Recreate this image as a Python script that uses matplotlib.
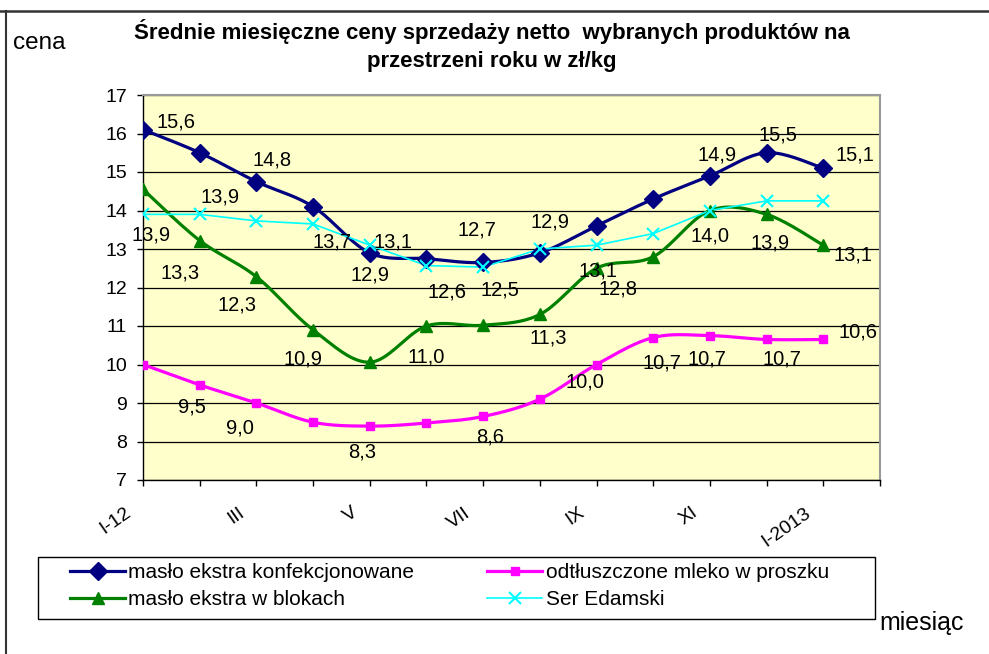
import numpy as np
import matplotlib
matplotlib.use("Agg")
import matplotlib.pyplot as plt
from matplotlib.lines import Line2D
from matplotlib.patches import Rectangle
from matplotlib.transforms import ScaledTranslation

plt.rcParams['font.family'] = ['Liberation Sans', 'DejaVu Sans']

# months on the category axis (13 points, axis runs one category further)
months = ['I-12', 'II', 'III', 'IV', 'V', 'VI', 'VII', 'VIII', 'IX', 'X', 'XI', 'XII', 'I-2013']
tick_labels = ['I-12', '', 'III', '', 'V', '', 'VII', '', 'IX', '', 'XI', '', 'I-2013', '']

maslo_konf = [16.1, 15.5, 14.75, 14.1, 12.9, 12.75, 12.65, 12.9, 13.6, 14.3, 14.9, 15.5, 15.1]
mleko = [10.0, 9.47, 9.0, 8.5, 8.4, 8.48, 8.65, 9.1, 10.0, 10.7, 10.75, 10.65, 10.65]
maslo_blok = [14.55, 13.22, 12.28, 10.9, 10.06, 11.0, 11.02, 11.3, 12.5, 12.8, 14.0, 13.9, 13.1]
ser = [13.9, 13.9, 13.73, 13.65, 13.1, 12.57, 12.53, 13.0, 13.1, 13.4, 14.0, 14.25, 14.25]

# data labels as they stand on the original chart (text, x, y in data units)
lab_konf = ['15,6', '14,8', '12,9', '12,7', '12,9', '14,9', '15,5', '15,1']
lab_konf_x = [0.59, 2.27, 4.00, 5.89, 7.18, 10.12, 11.20, 12.56]
lab_konf_y = [16.31, 15.31, 12.32, 13.49, 13.71, 15.44, 15.96, 15.44]

lab_ser = ['13,9', '13,9', '13,7', '13,1', '12,6', '12,5', '14,0']
lab_ser_x = [0.15, 1.36, 3.33, 4.41, 5.36, 6.30, 10.0]
lab_ser_y = [13.36, 14.34, 13.19, 13.17, 11.89, 11.94, 13.34]

lab_blok = ['13,3', '12,3', '10,9', '11,0', '11,3', '13,1', '12,8', '13,9', '13,1']
lab_blok_x = [0.65, 1.65, 2.83, 5.00, 7.15, 8.03, 8.38, 11.06, 12.53]
lab_blok_y = [12.38, 11.55, 10.14, 10.19, 10.68, 12.42, 11.95, 13.16, 12.84]

lab_mleko = ['9,5', '9,0', '8,3', '8,6', '10,0', '10,7', '10,7', '10,7', '10,6']
lab_mleko_x = [0.86, 1.71, 3.86, 6.12, 7.80, 9.15, 9.94, 11.27, 12.62]
lab_mleko_y = [8.90, 8.34, 7.74, 8.12, 9.55, 10.03, 10.13, 10.13, 10.85]


def smooth(x, y, n=20):
    # catmull-rom curve through the points, like excel "smoothed line"
    x = np.asarray(x, float)
    y = np.asarray(y, float)
    px = np.concatenate([[x[0]], x, [x[-1]]])
    py = np.concatenate([[y[0]], y, [y[-1]]])
    t = np.linspace(0, 1, n, endpoint=False)
    xs, ys = [], []
    for i in range(1, len(px) - 2):
        for arr, out in ((px, xs), (py, ys)):
            p0, p1, p2, p3 = arr[i - 1], arr[i], arr[i + 1], arr[i + 2]
            c1 = p1 + (p2 - p0) / 6
            c2 = p2 - (p3 - p1) / 6
            out.extend((1 - t) ** 3 * p1 + 3 * (1 - t) ** 2 * t * c1 + 3 * (1 - t) * t ** 2 * c2 + t ** 3 * p2)
    xs.append(x[-1])
    ys.append(y[-1])
    return np.array(xs), np.array(ys)


fig = plt.figure(figsize=(9.89, 6.54), dpi=100)
ax = fig.add_axes([143 / 989, 1 - 480 / 654, 737 / 989, 385 / 654])
ax.set_facecolor('#FFFFCC')

x = np.arange(len(months))

series = [
    (maslo_konf, '#000080', 'D', 9, 2.3, True, 'masło ekstra konfekcjonowane'),
    (maslo_blok, '#008000', '^', 9, 2.3, True, 'masło ekstra w blokach'),
    (mleko, '#FF00FF', 's', 6, 2.3, True, 'odtłuszczone mleko w proszku'),
    (ser, '#00FFFF', 'x', 9, 1.2, False, 'Ser Edamski'),
]
for k in [0, 2, 1, 3]:
    vals, col, mk, ms, lw, sm, name = series[k]
    if sm:
        sx, sy = smooth(x, vals)
    else:
        sx, sy = x, np.asarray(vals)
    ax.plot(sx, sy, color=col, lw=lw, zorder=3, solid_capstyle='round')
    ax.plot(x, vals, ls='none', marker=mk, ms=ms, color=col, mec=col,
            mew=1.5 if mk == 'x' else 1, zorder=4)
handles = [Line2D([], [], color=s[1], lw=s[4], marker=s[2], ms=s[3], mec=s[1],
                  mew=1.5 if s[2] == 'x' else 1) for s in series]
names = [s[6] for s in series]

for texts, xs_, ys_ in ((lab_konf, lab_konf_x, lab_konf_y), (lab_ser, lab_ser_x, lab_ser_y),
                        (lab_blok, lab_blok_x, lab_blok_y), (lab_mleko, lab_mleko_x, lab_mleko_y)):
    for t, lx, ly in zip(texts, xs_, ys_):
        ax.text(lx, ly, t, ha='center', va='center', fontsize=14.5, zorder=5, clip_on=False)

ax.set_xlim(0, 13)
ax.set_ylim(7, 17)
ax.set_yticks(range(7, 18))
ax.set_xticks(range(14))
ax.set_xticklabels(tick_labels, rotation=35, ha='right', va='center', rotation_mode='anchor')
ax.tick_params(axis='both', labelsize=14, direction='out', length=4.5, width=1, color='black')
ax.tick_params(axis='x', pad=18)
ax.tick_params(axis='y', pad=7)
shift = ScaledTranslation(-14 / 100, 0, fig.dpi_scale_trans)
for lbl in ax.get_xticklabels():
    lbl.set_transform(lbl.get_transform() + shift)
ax.grid(axis='y', color='black', lw=0.9, zorder=1)
ax.set_axisbelow(True)
for side in ('top', 'right'):
    ax.spines[side].set_color('#999999')
    ax.spines[side].set_linewidth(1.5)
for side in ('left', 'bottom'):
    ax.spines[side].set_color('black')
    ax.spines[side].set_linewidth(1)

fig.text(492 / 989, 1 - 32 / 654, 'Średnie miesięczne ceny sprzedaży netto  wybranych produktów na',
         ha='center', va='center', fontsize=16, fontweight='bold')
fig.text(492 / 989, 1 - 61 / 654, 'przestrzeni roku w zł/kg',
         ha='center', va='center', fontsize=16, fontweight='bold')
fig.text(13 / 989, 1 - 43 / 654, 'cena', ha='left', va='center', fontsize=17.5)
fig.text(879 / 989, 1 - 623 / 654, 'miesiąc', ha='left', va='center', fontsize=18)

# legend without its own frame, box drawn separately
leg = fig.legend(handles, names, ncol=2, loc='upper left',
                 bbox_to_anchor=(70 / 989, 1 - 563 / 654),
                 fontsize=15, frameon=False, handlelength=2.65, columnspacing=3.5,
                 borderaxespad=0, borderpad=0, labelspacing=0.4, handletextpad=0.15)
fig.add_artist(Rectangle((38 / 989, 1 - 619 / 654), 837 / 989, 62 / 654,
                         transform=fig.transFigure, fill=False, ec='black', lw=1))

# outer chart border (top and left edges visible)
fig.add_artist(Line2D([0, 1], [1 - 11 / 654, 1 - 11 / 654], color='#333333', lw=1.8))
fig.add_artist(Line2D([6 / 989, 6 / 989], [0, 1 - 11 / 654], color='#333333', lw=1.5))

fig.savefig('out.png', dpi=100)
